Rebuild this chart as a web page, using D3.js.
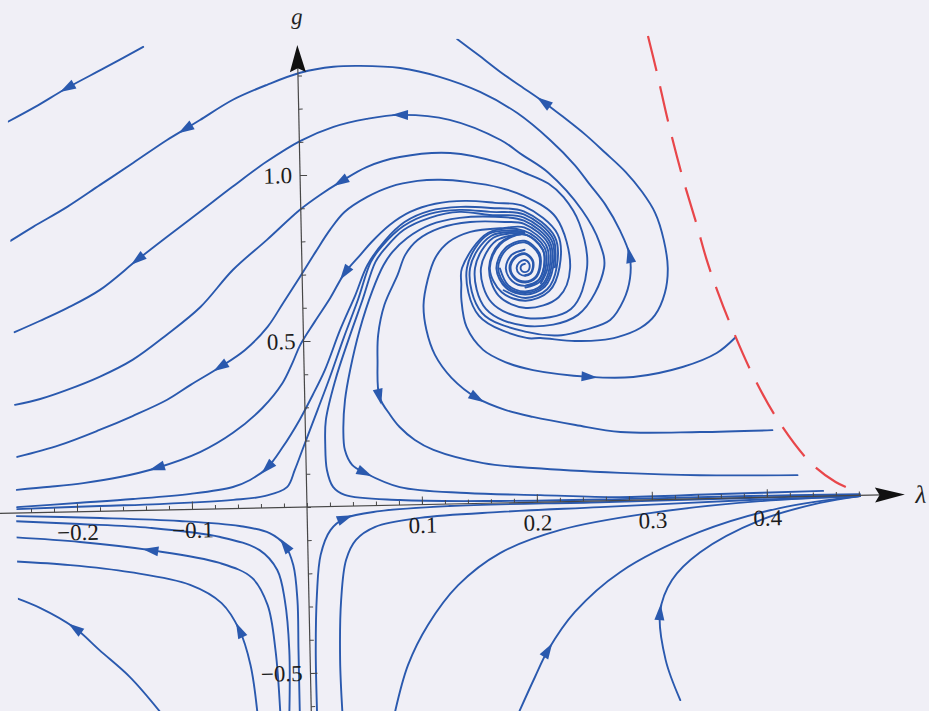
<!DOCTYPE html>
<html>
<head>
<meta charset="utf-8">
<script src="https://cdn.jsdelivr.net/npm/d3@7"></script>
<style>
  body { margin: 0; background: #f0eff6; }
  svg { display: block; }
</style>
</head>
<body>
<div id="chart"></div>
<script>
// page size and where the origin (lambda = 0, g = 0) sits
var svgWidth = 929;
var svgHeight = 711;
var origin = {x: 307, y: 507};
var tilt = -1.2;   // the scanned page is slightly rotated

// streamlines, each a list of [lambda, g] in flow direction
var lineA = [[-0.134,1.396],[-0.168,1.335],[-0.201,1.277],[-0.229,1.222],[-0.253,1.179]];
var lineB = [[0.1939,0.8137],[0.1652,0.8053],[0.1461,0.709],[0.1556,0.5736],[0.1939,0.5134],[0.2244,0.5013],[0.245,0.516],[0.267,0.544],[0.279,0.603],[0.285,0.669],[0.285,0.739],[0.277,0.814],[0.265,0.891],[0.252,0.952],[0.239,1.013],[0.218,1.090],[0.190,1.173],[0.158,1.239],[0.123,1.287],[0.089,1.316],[0.054,1.325],[0.031,1.324],[0.002,1.308],[-0.027,1.274],[-0.057,1.231],[-0.086,1.172],[-0.099,1.146],[-0.115,1.114],[-0.145,1.047],[-0.174,0.983],[-0.203,0.919],[-0.233,0.861],[-0.253,0.820]];
var lineC = [[0.1939,0.8156],[0.1634,0.8114],[0.1434,0.710],[0.1530,0.5645],[0.1939,0.4953],[0.206,0.494],[0.236,0.483],[0.258,0.484],[0.273,0.492],[0.293,0.518],[0.306,0.556],[0.315,0.622],[0.318,0.697],[0.315,0.782],[0.308,0.864],[0.297,0.928],[0.283,0.989],[0.266,1.047],[0.249,1.103],[0.230,1.158],[0.213,1.205],[0.193,1.255],[0.176,1.298],[0.157,1.351],[0.139,1.400]];
var lineD = [[0.1939,0.8116],[0.1669,0.7993],[0.1504,0.709],[0.1591,0.5856],[0.1939,0.5314],[0.2391,0.5615],[0.2626,0.701],[0.2592,0.777],[0.2444,0.877],[0.2157,0.992],[0.1939,1.046],[0.175,1.093],[0.131,1.157],[0.088,1.175],[0.059,1.165],[0.030,1.143],[0.001,1.103],[-0.029,1.042],[-0.059,0.969],[-0.088,0.895],[-0.117,0.822],[-0.143,0.755],[-0.176,0.667],[-0.205,0.614],[-0.229,0.577],[-0.251,0.545]];
var lineE = [[0.1939,0.8093],[0.1695,0.7903],[0.1556,0.709],[0.1643,0.6037],[0.1939,0.5555],[0.2331,0.5796],[0.2478,0.702],[0.2418,0.8381],[0.2287,0.9168],[0.2157,0.9588],[0.1939,0.995],[0.174,1.024],[0.131,1.057],[0.087,1.048],[0.058,1.020],[0.035,0.977],[0.017,0.939],[-0.001,0.895],[-0.030,0.807],[-0.060,0.719],[-0.089,0.609],[-0.119,0.527],[-0.149,0.454],[-0.178,0.405],[-0.207,0.367],[-0.230,0.342],[-0.252,0.326]];
var lineF = [[0.1939,0.7610],[0.1824,0.7459],[0.1772,0.706],[0.1826,0.6669],[0.1939,0.6522],[0.2051,0.6671],[0.2103,0.706],[0.2097,0.7606],[0.1939,0.8077],[0.1721,0.7813],[0.1626,0.708],[0.1704,0.6247],[0.1939,0.5856],[0.2226,0.6157],[0.2331,0.703],[0.2217,0.8565],[0.1939,0.923],[0.174,0.949],[0.145,0.969],[0.122,0.977],[0.102,0.975],[0.078,0.959],[0.058,0.930],[0.038,0.886],[0.025,0.833],[0.012,0.767],[-0.002,0.693],[-0.017,0.616],[-0.031,0.545],[-0.051,0.477],[-0.073,0.427],[-0.099,0.375],[-0.120,0.331],[-0.150,0.285],[-0.179,0.245],[-0.214,0.202],[-0.251,0.169]];
var lineG = [[0.1939,0.6527],[0.2050,0.6677],[0.2102,0.706],[0.2095,0.7601],[0.1939,0.8067],[0.1728,0.7791],[0.1633,0.706],[0.1732,0.6344],[0.1939,0.6075],[0.2145,0.6347],[0.2239,0.706],[0.2228,0.806],[0.1939,0.8922],[0.169,0.904],[0.143,0.912],[0.117,0.905],[0.095,0.882],[0.077,0.844],[0.061,0.794],[0.051,0.756],[0.037,0.702],[0.024,0.628],[0.010,0.557],[-0.003,0.488],[-0.010,0.435],[-0.019,0.375],[-0.037,0.301],[-0.063,0.228],[-0.092,0.172],[-0.130,0.127],[-0.162,0.102],[-0.194,0.086],[-0.223,0.077],[-0.252,0.070]];
var lineH = [[0.1749,0.6404],[0.1939,0.6157],[0.2128,0.6407],[0.2214,0.706],[0.2204,0.7976],[0.1939,0.8766],[0.165,0.889],[0.139,0.894],[0.112,0.884],[0.090,0.852],[0.073,0.799],[0.057,0.725],[0.046,0.636],[0.032,0.531],[0.018,0.411],[0.007,0.337],[-0.005,0.262],[-0.020,0.182],[-0.034,0.120],[-0.049,0.085],[-0.064,0.065],[-0.101,0.047],[-0.151,0.035],[-0.197,0.027],[-0.252,0.018]];
var lineI = [[0.2199,0.706],[0.2189,0.7925],[0.1939,0.8672],[0.165,0.877],[0.138,0.885],[0.112,0.875],[0.089,0.840],[0.070,0.781],[0.060,0.734],[0.048,0.620],[0.035,0.507],[0.022,0.387],[0.011,0.292],[0.004,0.232],[-0.003,0.172],[-0.010,0.112],[-0.017,0.061],[-0.036,0.036],[-0.064,0.026],[-0.128,0.018],[-0.180,0.016],[-0.252,0.012]];
var lineJ = [[0.1939,0.7188],[0.1912,0.7153],[0.1900,0.706],[0.1912,0.6967],[0.1939,0.6935],[0.1965,0.6970],[0.1978,0.706],[0.1976,0.7188],[0.1939,0.7300],[0.1890,0.7233],[0.1866,0.706],[0.1890,0.6887],[0.1939,0.6826],[0.1988,0.6890],[0.2011,0.706],[0.2007,0.7297],[0.1939,0.7504],[0.1846,0.7381],[0.1804,0.706],[0.1848,0.6745],[0.1939,0.6625],[0.2029,0.6748],[0.2072,0.706],[0.2066,0.7501],[0.1939,0.7881],[0.1767,0.7656],[0.1690,0.706],[0.1770,0.6476],[0.1939,0.6257],[0.2107,0.6479],[0.2183,0.706],[0.2175,0.7875],[0.1939,0.8578],[0.164,0.868],[0.138,0.879],[0.112,0.863],[0.089,0.828],[0.073,0.775],[0.064,0.734],[0.052,0.620],[0.039,0.500],[0.027,0.381],[0.018,0.261],[0.017,0.186],[0.018,0.110],[0.023,0.059],[0.033,0.034],[0.081,0.015],[0.168,0.006],[0.272,0.004],[0.385,0.005],[0.481,0.004]];
var lineK = [[0.1939,0.6841],[0.1985,0.6901],[0.2006,0.706],[0.2003,0.7282],[0.1939,0.7477],[0.1852,0.7361],[0.1813,0.706],[0.1853,0.6764],[0.1939,0.6652],[0.2024,0.6767],[0.2064,0.706],[0.2058,0.7474],[0.1939,0.7830],[0.1778,0.7619],[0.1705,0.706],[0.1781,0.6512],[0.1939,0.6307],[0.2096,0.6515],[0.2168,0.706],[0.2160,0.7824],[0.1939,0.8484],[0.169,0.862],[0.138,0.861],[0.112,0.842],[0.092,0.804],[0.079,0.763],[0.071,0.724],[0.061,0.649],[0.049,0.530],[0.040,0.410],[0.035,0.320],[0.033,0.230],[0.034,0.169],[0.040,0.124],[0.051,0.099],[0.081,0.054],[0.139,0.032],[0.203,0.021],[0.272,0.010],[0.359,0.013],[0.449,0.016]];
var lineL = [[0.1721,0.706],[0.1791,0.6548],[0.1939,0.6356],[0.2086,0.6551],[0.2153,0.706],[0.2146,0.7774],[0.1939,0.8390],[0.177,0.846],[0.147,0.848],[0.121,0.832],[0.101,0.797],[0.090,0.753],[0.083,0.693],[0.071,0.604],[0.065,0.514],[0.064,0.438],[0.065,0.327],[0.074,0.272],[0.082,0.235],[0.095,0.195],[0.111,0.164],[0.154,0.121],[0.197,0.103],[0.273,0.083],[0.342,0.071],[0.427,0.065]];
var lineM = [[0.2074,0.6593],[0.2136,0.706],[0.2129,0.7715],[0.1939,0.8281],[0.177,0.828],[0.147,0.818],[0.128,0.789],[0.116,0.742],[0.109,0.676],[0.105,0.601],[0.107,0.526],[0.114,0.450],[0.128,0.380],[0.150,0.317],[0.174,0.280],[0.198,0.257],[0.235,0.230],[0.274,0.206],[0.343,0.201],[0.406,0.202]];
var lineN = [[0.1939,0.6468],[0.2063,0.6632],[0.2119,0.706],[0.2113,0.7661],[0.1939,0.8179],[0.1626,0.8144],[0.1391,0.710],[0.1382,0.659],[0.138,0.614],[0.142,0.532],[0.156,0.462],[0.175,0.424],[0.199,0.398],[0.248,0.374],[0.286,0.371],[0.329,0.398],[0.359,0.438],[0.375,0.482]];
var lineO = [[-0.010,-0.614],[-0.010,-0.430],[-0.010,-0.280],[-0.013,-0.174],[-0.020,-0.113],[-0.033,-0.076],[-0.059,-0.053],[-0.111,-0.034],[-0.180,-0.020],[-0.260,-0.008]];
var lineP = [[-0.019,-0.613],[-0.018,-0.430],[-0.021,-0.279],[-0.027,-0.188],[-0.042,-0.127],[-0.076,-0.085],[-0.137,-0.053],[-0.198,-0.037],[-0.260,-0.023]];
var lineQ = [[-0.027,-0.613],[-0.030,-0.429],[-0.036,-0.293],[-0.049,-0.210],[-0.077,-0.163],[-0.137,-0.120],[-0.198,-0.091],[-0.261,-0.071]];
var lineR = [[-0.047,-0.611],[-0.052,-0.472],[-0.061,-0.366],[-0.076,-0.284],[-0.103,-0.227],[-0.155,-0.185],[-0.207,-0.160],[-0.261,-0.144]];
var lineS = [[-0.132,-0.605],[-0.157,-0.501],[-0.183,-0.418],[-0.204,-0.350],[-0.234,-0.287],[-0.262,-0.246]];
var lineT = [[0.005,-0.615],[0.005,-0.431],[0.007,-0.266],[0.011,-0.145],[0.020,-0.071],[0.033,-0.036],[0.063,-0.017],[0.124,-0.006],[0.255,-0.004],[0.385,-0.001],[0.481,0.001]];
var lineU = [[0.027,-0.617],[0.026,-0.463],[0.028,-0.282],[0.033,-0.162],[0.042,-0.102],[0.059,-0.064],[0.098,-0.040],[0.168,-0.027],[0.255,-0.019],[0.385,-0.007],[0.481,-0.002]];
var lineV = [[0.073,-0.620],[0.085,-0.482],[0.103,-0.363],[0.130,-0.245],[0.167,-0.151],[0.220,-0.085],[0.298,-0.040],[0.394,-0.011],[0.481,-0.002]];
var lineW = [[0.181,-0.628],[0.195,-0.527],[0.207,-0.446],[0.231,-0.333],[0.271,-0.216],[0.341,-0.100],[0.411,-0.033],[0.481,-0.002]];
var lineX = [[0.321,-0.605],[0.309,-0.483],[0.305,-0.339],[0.316,-0.243],[0.341,-0.161],[0.394,-0.068],[0.446,-0.020],[0.481,-0.002]];

var streamlines = [lineA, lineB, lineC, lineD, lineE, lineF, lineG, lineH, lineI, lineJ,
                   lineK, lineL, lineM, lineN, lineO, lineP, lineQ, lineR, lineS, lineT,
                   lineU, lineV, lineW, lineX];

// arrowheads: [streamline, vertex]
var arrowAt = [[0,2],[1,10],[1,26],[2,20],[3,13],[3,21],[4,15],[5,30],[6,20],[6,29],
               [7,18],[10,34],[11,16],[12,13],[13,13],[14,4],[16,5],[17,2],[18,3],
               [19,5],[22,2],[23,2]];

// dashed singular line
var singularLine = [[0.305,1.397],[0.312,1.288],[0.321,1.137],[0.332,0.976],[0.344,0.825],[0.352,0.719],[0.361,0.622],[0.371,0.527],[0.390,0.369],[0.411,0.232],[0.438,0.104],[0.460,0.042],[0.477,0.014]];

var xMajorTicks = [-0.2, -0.1, 0.1, 0.2, 0.3, 0.4];
var xTickLabels = ["\u22120.2", "\u22120.1", "0.1", "0.2", "0.3", "0.4"];
var yMajorTicks = [-0.5, 0.5, 1.0];
var yTickLabels = ["\u22120.5", "0.5", "1.0"];

var blue = "#2a59ae";
var axisColor = "#474747";
var serif = "'Liberation Serif', 'DejaVu Serif', serif";

var svg = d3.select("#chart")
  .append("svg")
  .attr("width", svgWidth)
  .attr("height", svgHeight)
  .style("background", "#f0eff6");

var plot = svg.append("g")
  .attr("transform", `translate(${origin.x},${origin.y}) rotate(${tilt})`);

var x = d3.scaleLinear().domain([0, 0.1]).range([0, 115]);
var y = d3.scaleLinear().domain([0, 0.5]).range([0, -166]);

plot.append("clipPath").attr("id", "clip")
  .append("rect")
  .attr("x", x(-0.253)).attr("y", y(1.40))
  .attr("width", x(0.6) - x(-0.253))
  .attr("height", y(-0.7) - y(1.40));

var line = d3.line()
  .x(d => x(d[0]))
  .y(d => y(d[1]))
  .curve(d3.curveCatmullRom.alpha(0.5));

var flow = plot.append("g").attr("clip-path", "url(#clip)");

flow.selectAll("path.stream")
  .data(streamlines)
  .enter()
  .append("path")
  .attr("class", "stream")
  .attr("d", line)
  .attr("fill", "none")
  .attr("stroke", blue)
  .attr("stroke-width", 1.9)
  .attr("stroke-linecap", "round");

flow.selectAll("path.head")
  .data(arrowAt)
  .enter()
  .append("path")
  .attr("class", "head")
  .attr("d", "M8,0L-8,-5L-8,5Z")
  .attr("fill", blue)
  .attr("transform", function(a) {
    var pts = streamlines[a[0]];
    var p = pts[a[1]], p0 = pts[a[1] - 1], p1 = pts[a[1] + 1];
    var ang = Math.atan2(y(p1[1]) - y(p0[1]), x(p1[0]) - x(p0[0])) * 180 / Math.PI;
    return `translate(${x(p[0])},${y(p[1])}) rotate(${ang})`;
  });

flow.append("path")
  .attr("d", line(singularLine))
  .attr("fill", "none")
  .attr("stroke", "#e8464a")
  .attr("stroke-width", 2.2)
  .attr("stroke-dasharray", "36,16");

// axes
var xMinor = d3.range(-12, 25).map(d => d * 0.02);
var yMinor = d3.range(-6, 14).map(d => d * 0.1);

var xMinorAxis = plot.append("g")
  .call(d3.axisBottom(x).tickValues(xMinor).tickSize(-4).tickFormat(""));
var xAxis = plot.append("g")
  .call(d3.axisBottom(x).tickValues(xMajorTicks).tickSizeInner(-8).tickSizeOuter(0)
    .tickPadding(12).tickFormat((d, i) => xTickLabels[i]));
var yMinorAxis = plot.append("g")
  .call(d3.axisLeft(y).tickValues(yMinor).tickSize(-4).tickFormat(""));
var yAxis = plot.append("g")
  .call(d3.axisLeft(y).tickValues(yMajorTicks).tickSizeInner(-7).tickSizeOuter(0)
    .tickPadding(8).tickFormat((d, i) => yTickLabels[i]));

[xMinorAxis, xAxis, yMinorAxis, yAxis].forEach(function(a) {
  a.select(".domain").remove();
  a.selectAll("line").attr("stroke", axisColor);
  a.selectAll("text").attr("fill", "#1c1c1c").attr("font-family", serif).attr("font-size", 23);
});

plot.append("line")
  .attr("x1", x(-0.28)).attr("x2", x(0.5))
  .attr("y1", 0).attr("y2", 0)
  .attr("stroke", axisColor).attr("stroke-width", 1.2);
plot.append("line")
  .attr("x1", 0).attr("x2", 0)
  .attr("y1", y(-0.64)).attr("y2", y(1.33))
  .attr("stroke", axisColor).attr("stroke-width", 1.2);

// axis arrowheads
plot.append("path")
  .attr("d", `M${x(0.52)},0L${x(0.494)},-7.5L${x(0.498)},0L${x(0.494)},7.5Z`)
  .attr("fill", "#111");
plot.append("path")
  .attr("d", `M0,${y(1.392)}L-8,${y(1.31)}L0,${y(1.322)}L8,${y(1.31)}Z`)
  .attr("fill", "#111");

plot.append("text")
  .attr("x", x(0)).attr("y", y(1.455))
  .attr("text-anchor", "middle")
  .attr("font-family", serif).attr("font-style", "italic").attr("font-size", 23)
  .attr("fill", "#222")
  .text("g");
plot.append("text")
  .attr("x", x(0.529)).attr("y", y(0)).attr("dy", "0.35em")
  .attr("font-family", serif).attr("font-style", "italic").attr("font-size", 25)
  .attr("fill", "#222")
  .text("\u03bb");
</script>
</body>
</html>
